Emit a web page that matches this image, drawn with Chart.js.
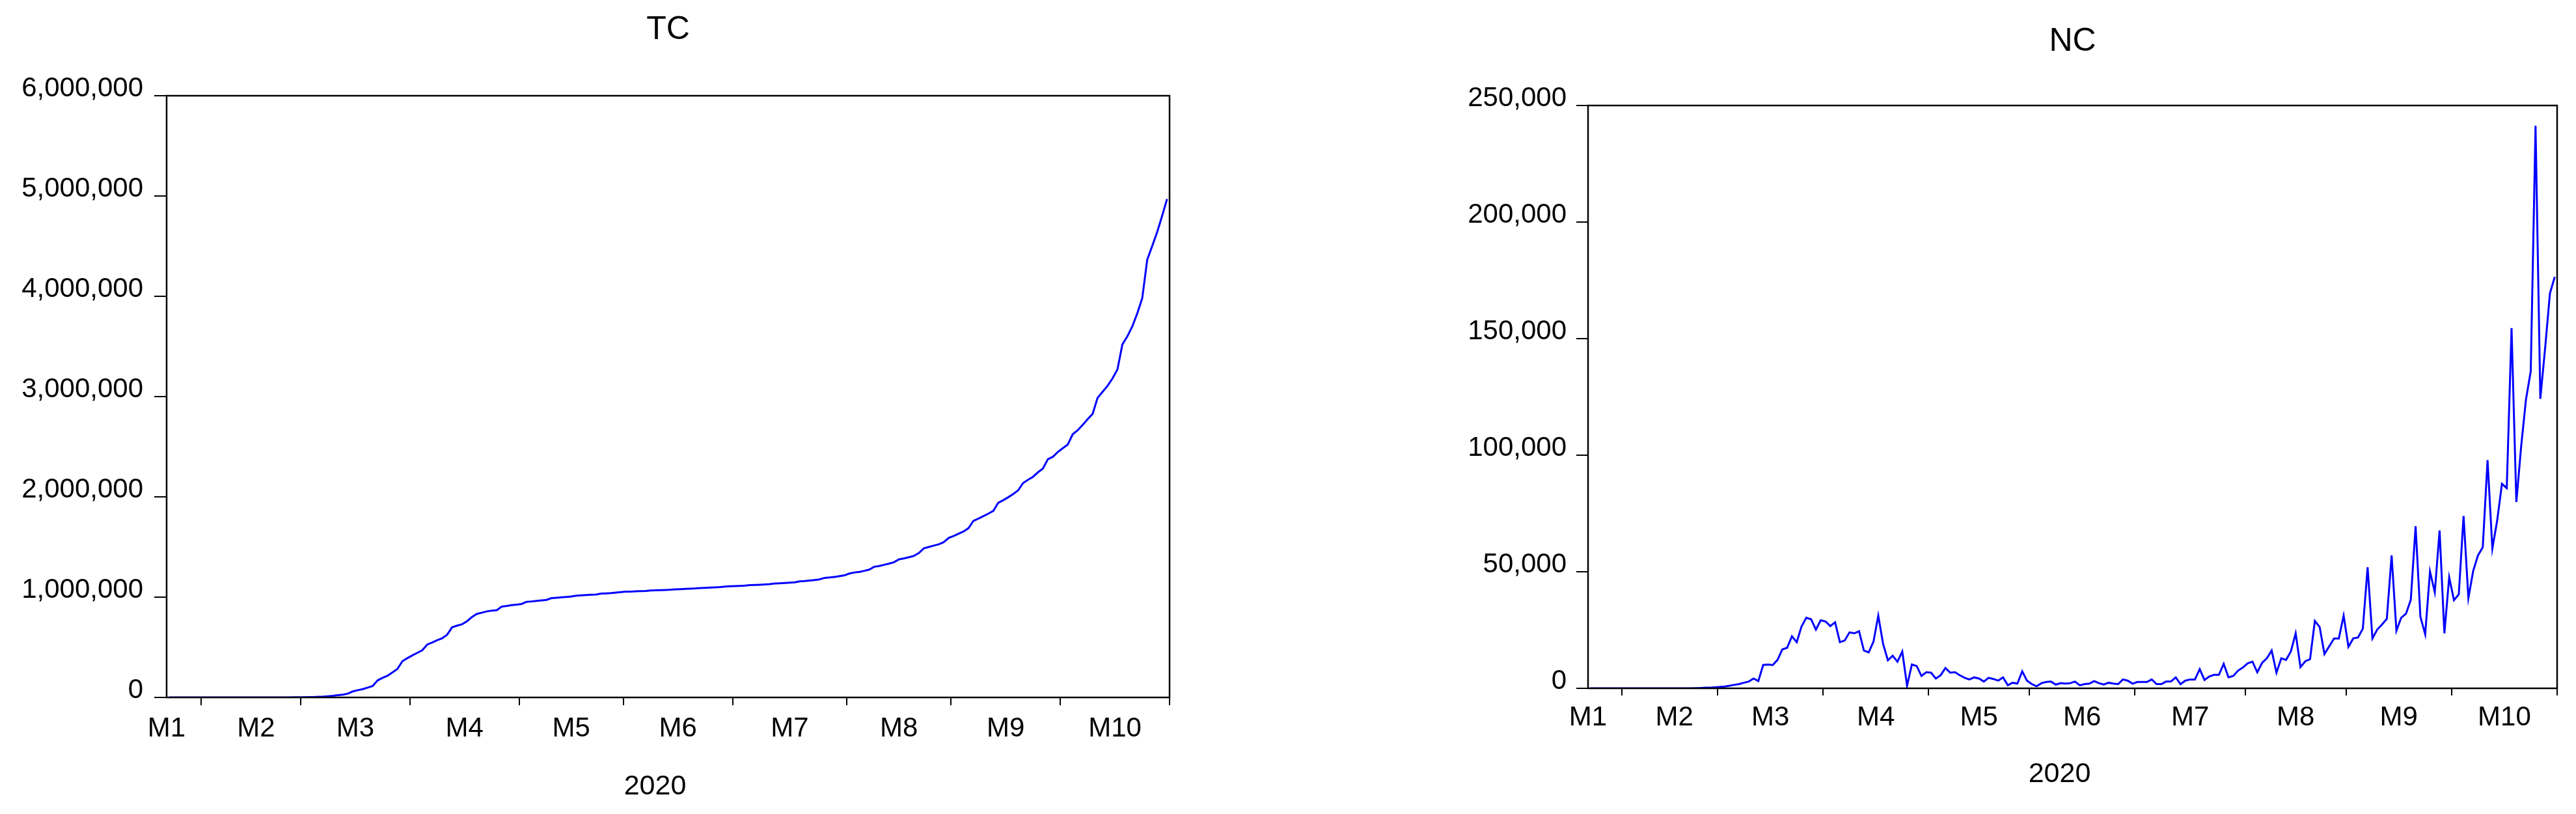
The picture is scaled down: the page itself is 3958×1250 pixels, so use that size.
<!DOCTYPE html>
<html>
<head>
<meta charset="utf-8">
<script src="https://cdn.jsdelivr.net/npm/chart.js@4/dist/chart.umd.min.js"></script>
<style>
  html, body { margin: 0; padding: 0; background: #fff; }
  body { width: 3958px; height: 1250px; position: relative; overflow: hidden; }
  canvas { position: absolute; top: 0; }
  #tcChart { left: 0; }
  #ncChart { left: 2000px; }
</style>
</head>
<body>
<canvas id="tcChart" width="2000" height="1250"></canvas>
<canvas id="ncChart" width="1958" height="1250"></canvas>
<script>
// month labels on the date axis, weekday observations per month (Jan 23 .. Oct 30, 2020)
const months = ['M1', 'M2', 'M3', 'M4', 'M5', 'M6', 'M7', 'M8', 'M9', 'M10'];
const monthObs = [7, 20, 22, 22, 21, 22, 23, 21, 22, 22];
const yearLabel = '2020';

const tcTicks = [0, 1000000, 2000000, 3000000, 4000000, 5000000, 6000000];
const ncTicks = [0, 50000, 100000, 150000, 200000, 250000];

// TC: total cases
const tc = [
  0, 0, 2, 4, 5, 9, 16,
  18, 19, 20, 21, 23, 23, 24, 24, 24, 24, 25, 25, 30, 60, 150, 300, 500, 700, 1000, 1400,
  2000, 3000, 4000, 6000, 8000, 12000, 16000, 22000, 28000, 38000, 60000, 72000, 83000, 98000, 114000,
  170000, 195000, 217000, 250000, 285000, 362000, 392000,
  420000, 445000, 471000, 528000, 548000, 570000, 590000, 626000, 699000, 716000, 730000, 760000,
  802000, 833000, 845000, 858000, 866000, 870000, 906000, 912000, 920000, 926000,
  932000, 953000, 957000, 962000, 968000, 973000, 990000, 994000, 998000, 1002000, 1006000,
  1015000, 1018000, 1021000, 1024000, 1026000, 1035000, 1038000, 1040000, 1046000, 1051000,
  1055000, 1056000, 1058000, 1060000, 1062000, 1066000, 1068000, 1070000, 1072000, 1074000, 1078000,
  1080000, 1082000, 1085000, 1087000, 1091000, 1093000, 1095000, 1098000, 1101000, 1106000, 1108000,
  1110000, 1112000, 1115000, 1120000, 1122000, 1124000, 1127000, 1130000, 1136000, 1138000, 1141000,
  1144000, 1148000, 1158000, 1161000, 1166000, 1171000, 1177000, 1192000, 1196000, 1202000, 1209000, 1217000,
  1235000, 1246000, 1252000, 1262000, 1274000, 1303000, 1310000, 1322000, 1334000, 1348000, 1377000,
  1386000, 1398000, 1411000, 1440000, 1486000, 1500000, 1514000, 1527000, 1548000, 1590000,
  1610000, 1632000, 1655000, 1688000, 1760000, 1783000, 1808000, 1833000, 1860000, 1941000, 1967000,
  1996000, 2028000, 2065000, 2138000, 2170000, 2200000, 2245000, 2283000, 2376000, 2400000, 2447000,
  2485000, 2521000, 2625000, 2664000, 2718000, 2775000, 2827000, 2987000, 3047000, 3106000, 3180000,
  3270000, 3520000, 3600000, 3700000, 3830000, 3981000, 4364000, 4500000, 4640000, 4800000, 4970000
];

// NC: new cases
const nc = [
  0, 0, 1, 2, 1, 4, 7,
  2, 1, 1, 1, 1, 1, 0, 1, 0, 0, 0, 0, 1, 3, 20, 80, 150, 250, 300, 450,
  600, 800, 1100, 1500, 1800, 2400, 2900, 4200, 3100, 10000, 10200, 10000, 12200, 16700, 17400,
  22300, 19800, 26500, 30300, 29600, 25200, 29200,
  28700, 26700, 28300, 19800, 20500, 24000, 23600, 24500, 16200, 15400, 20000,
  31200, 19100, 12000, 14000, 11400, 15800, 1100, 10200, 9600, 5300, 6900,
  6700, 4200, 5600, 8700, 6700, 6900, 5600, 4500, 3800, 4700, 4200,
  2900, 4500, 4000, 3300, 4700, 1300, 2400, 2000, 7300, 3300,
  1800, 900, 2200, 2700, 2900, 1600, 2200, 2000, 2200, 2900, 1300,
  1800, 2000, 3100, 2200, 1600, 2400, 2000, 1800, 3800, 3300, 2000,
  2700, 2700, 2700, 3800, 1800, 1800, 2900, 2900, 4700, 1800, 3300, 3800,
  3800, 8200, 3600, 5100, 5800, 5800, 10500, 4700, 5300, 7600, 8900,
  10700, 11400, 6900, 10900, 12900, 16200, 6700, 12900, 12200, 15800, 23600,
  9100, 11600, 12500, 28900, 26300, 14700, 18000, 21400, 21400, 31200,
  17800, 21400, 21800, 25600, 51900, 21400, 25200, 27400, 29800, 57000, 24700,
  30300, 32000, 38000, 69500, 30700, 23200, 50100, 41200, 67700, 23600, 47600,
  37800, 40300, 73900, 38700, 50300, 57000, 60500, 97900, 59900, 71900, 87700,
  85900, 154500, 79900, 103700, 123800, 136000, 241300, 124200, 146000, 169400, 176500
];

Chart.defaults.font.family = '"Liberation Sans", Arial, sans-serif';
Chart.defaults.color = '#000';

// month boundaries (tick marks) and month label positions, in observation units
const bounds = [];
let acc = 0;
monthObs.forEach(n => { acc += n; bounds.push(acc - 0.5); });
const labelAt = {};
months.forEach((m, k) => {
  let pos;
  if (k === 0) pos = -0.5;
  else pos = (bounds[k - 1] + bounds[k]) / 2 + (k === 1 ? 1 : 0);
  labelAt[pos] = m;
});
const xTickValues = Object.keys(labelAt).map(Number).concat(bounds).sort((a, b) => a - b);
const isBound = v => bounds.includes(v);

// frame round the plot plus title and year text
const framePlugin = {
  id: 'frame',
  afterDatasetsDraw(chart, args, opts) {
    const { ctx, chartArea: a } = chart;
    const cx = (a.left + a.right) / 2;
    ctx.save();
    ctx.strokeStyle = '#000';
    ctx.lineWidth = 2.5;
    ctx.strokeRect(a.left, a.top, a.right - a.left, a.bottom - a.top);
    ctx.fillStyle = '#000';
    ctx.textAlign = 'center';
    ctx.textBaseline = 'alphabetic';
    ctx.font = '50px "Liberation Sans", Arial, sans-serif';
    ctx.fillText(opts.title, cx, opts.titleY);
    ctx.font = '43px "Liberation Sans", Arial, sans-serif';
    ctx.fillText(yearLabel, cx + opts.yearDx, opts.yearY);
    ctx.restore();
  }
};

function makeChart(id, name, values, yTicks, L) {
  const tickCol = c => (isBound(c.tick.value) ? '#000' : 'rgba(0,0,0,0)');
  return new Chart(document.getElementById(id), {
    type: 'line',
    data: {
      datasets: [{
        label: name,
        data: values.map((v, i) => ({ x: i, y: v })),
        borderColor: '#0000ff',
        borderWidth: 3,
        pointRadius: 0,
        tension: 0,
        fill: false
      }]
    },
    options: {
      responsive: false,
      animation: false,
      devicePixelRatio: 1,
      layout: { padding: { top: L.padTop, right: L.padRight, left: 0, bottom: 0 } },
      plugins: {
        legend: { display: false },
        tooltip: { enabled: false },
        frame: { title: name, titleY: L.titleY, yearDx: -20, yearY: L.yearY }
      },
      scales: {
        x: {
          type: 'linear',
          min: -0.5,
          max: acc - 0.5,
          afterBuildTicks: s => { s.ticks = xTickValues.map(v => ({ value: v })); },
          afterFit: s => { s.height = L.xHeight; },
          border: { display: false },
          grid: {
            drawOnChartArea: false,
            drawTicks: true,
            tickLength: L.xTl,
            lineWidth: 2,
            color: tickCol,
            tickColor: tickCol
          },
          ticks: {
            autoSkip: false,
            maxRotation: 0,
            padding: L.xPad,
            font: { size: 42 },
            callback: v => labelAt[v] || ''
          }
        },
        y: {
          min: yTicks[0],
          max: yTicks[yTicks.length - 1],
          afterBuildTicks: s => { s.ticks = yTicks.map(v => ({ value: v })); },
          afterFit: s => { s.width = L.yWidth; },
          border: { display: false },
          grid: {
            drawOnChartArea: false,
            drawTicks: true,
            tickLength: L.yTl,
            lineWidth: 2,
            color: '#000'
          },
          ticks: {
            padding: L.yPad,
            labelOffset: L.yOff,
            font: { size: 42 },
            callback: v => v.toLocaleString('en-US')
          }
        }
      }
    },
    plugins: [framePlugin]
  });
}

makeChart('tcChart', 'TC', tc, tcTicks, {
  padTop: 147, padRight: 203, yWidth: 256, xHeight: 179,
  yTl: 19, yPad: 17, yOff: -11, xTl: 12, xPad: 11, titleY: 60, yearY: 1220
});
makeChart('ncChart', 'NC', nc, ncTicks, {
  padTop: 162, padRight: 29, yWidth: 440, xHeight: 193,
  yTl: 18, yPad: 15, yOff: -10.5, xTl: 11, xPad: 9, titleY: 77.5, yearY: 1201
});
</script>
</body>
</html>
